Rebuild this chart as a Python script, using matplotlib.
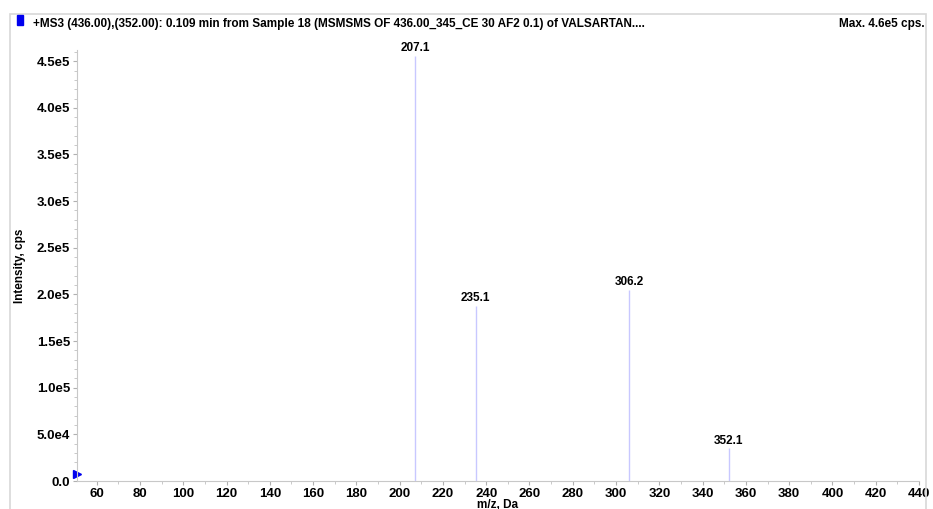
import matplotlib.pyplot as plt
from matplotlib.patches import Rectangle
from matplotlib.ticker import MultipleLocator, FuncFormatter

plt.rcParams['font.family'] = ['Liberation Sans', 'DejaVu Sans']
plt.rcParams['font.weight'] = 'bold'

# Labelled fragment peaks (m/z, intensity in cps)
peak_mz = [207.1, 235.1, 306.2, 352.1]
peak_intensity = [4.56e5, 1.88e5, 2.05e5, 3.5e4]

title = '+MS3 (436.00),(352.00): 0.109 min from Sample 18 (MSMSMS OF 436.00_345_CE 30 AF2 0.1) of VALSARTAN....'
max_text = 'Max. 4.6e5 cps.'


def y_fmt(v, pos):
    if v == 0:
        return '0.0'
    exp = len(str(int(round(v)))) - 1
    return f'{v / 10 ** exp:.1f}e{exp}'


fig = plt.figure(figsize=(9.33, 5.09), dpi=100)
fig.patches.append(Rectangle((10 / 933, -0.1), 916 / 933, 1 - 14 / 509 + 0.1,
                             transform=fig.transFigure, fill=False,
                             edgecolor='#d8d8d8', linewidth=1.2))
ax = fig.add_axes([77 / 933, 1 - 481 / 509, (919 - 77) / 933, (481 - 50) / 509])

ax.vlines(peak_mz, 0, peak_intensity, color='#c8c8ff', linewidth=1.0)
for mz, h in zip(peak_mz, peak_intensity):
    ax.text(mz, h + 1.5e3, f'{mz:.1f}', ha='center', va='bottom', fontsize=8.5, fontweight='bold')

ax.set_xlim(50.9, 440)
ax.set_ylim(0, 4.62e5)
ax.xaxis.set_major_locator(MultipleLocator(20))
ax.xaxis.set_minor_locator(MultipleLocator(10))
ax.xaxis.set_major_formatter(FuncFormatter(lambda v, p: f'{v:.0f}' if v >= 60 else ''))
ax.yaxis.set_major_locator(MultipleLocator(5e4))
ax.yaxis.set_minor_locator(MultipleLocator(1e4))
ax.yaxis.set_major_formatter(FuncFormatter(y_fmt))
ax.tick_params(axis='both', which='major', labelsize=9.5, length=3, pad=2,
               color='#b0b0b0', width=0.8)
ax.tick_params(axis='both', which='minor', length=2, color='#c0c0c0', width=0.6)
for lbl in ax.get_xticklabels() + ax.get_yticklabels():
    lbl.set_fontweight('bold')

for side in ('top', 'right'):
    ax.spines[side].set_visible(False)
for side in ('left', 'bottom'):
    ax.spines[side].set_color('#c8c8c8')
    ax.spines[side].set_linewidth(0.8)

ax.set_xlabel('m/z, Da', fontsize=8.5, fontweight='bold', labelpad=-1)
ax.set_ylabel('Intensity, cps', fontsize=8.5, fontweight='bold', labelpad=8)

# marker at the origin and header
ax.plot([50.9], [8e3], marker='>', color='#0000ee', markersize=5.5, clip_on=False)
fig.patches.append(Rectangle((17 / 933, 1 - 25 / 509), 6 / 933, 10 / 509,
                             transform=fig.transFigure, color='#0000ee'))
fig.text(33 / 933, 1 - 24 / 509, title, fontsize=8.5, fontweight='bold', va='center')
fig.text(925 / 933, 1 - 24 / 509, max_text, fontsize=8.5, fontweight='bold', va='center', ha='right')

fig.savefig('out.png', dpi=100)
